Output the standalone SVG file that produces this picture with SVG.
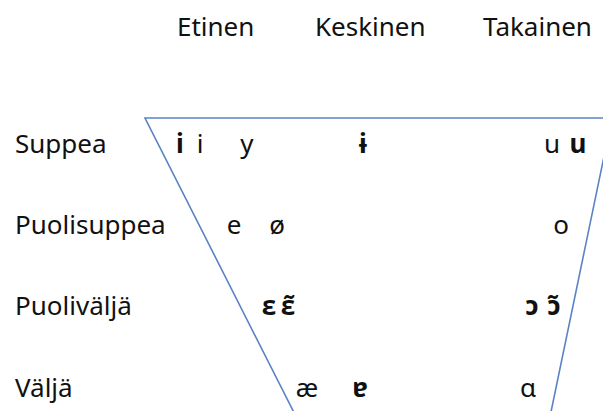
<svg xmlns="http://www.w3.org/2000/svg" width="603" height="411" viewBox="0 0 603 411">
  <style>
    text { font-family: "Noto Sans", "DejaVu Sans", sans-serif; font-size: 26px; fill: #111; }
    .v { text-anchor: middle; }
    .b { font-weight: bold; }
    .frame { fill: none; stroke: #5b83c4; stroke-width: 1.6; }
  </style>
  <rect width="603" height="411" fill="#ffffff"/>
  <g id="connectors">
    <path class="frame" d="M 318 460 L 145 118 L 612 118 L 541 460"/>
  </g>
  <g id="headers">
    <text x="177" y="36">Etinen</text>
    <text x="315" y="36">Keskinen</text>
    <text x="483" y="36">Takainen</text>
  </g>
  <g id="rows">
    <text x="15" y="153">Suppea</text>
    <text x="15" y="234">Puolisuppea</text>
    <text x="15" y="315">Puoliväljä</text>
    <text x="15" y="397">Väljä</text>
  </g>
  <g id="row-suppea">
    <text class="v b" x="180" y="153">i</text>
    <text class="v" x="200" y="153">i</text>
    <text class="v" x="247" y="153">y</text>
    <text class="v b" x="363" y="153">ɨ</text>
    <text class="v" x="552" y="153">u</text>
    <text class="v b" x="578" y="153">u</text>
  </g>
  <g id="row-puolisuppea">
    <text class="v" x="234" y="234">e</text>
    <text class="v" x="277" y="234">ø</text>
    <text class="v" x="561" y="234">o</text>
  </g>
  <g id="row-puolivalja">
    <text class="v b" x="269" y="315">ɛ</text>
    <text class="v b" x="288" y="315">ɛ̃</text>
    <text class="v b" x="532" y="315">ɔ</text>
    <text class="v b" x="554" y="315">ɔ̃</text>
  </g>
  <g id="row-valja">
    <text class="v" x="307" y="397">æ</text>
    <text class="v b" x="360" y="397">ɐ</text>
    <text class="v" x="528" y="397">ɑ</text>
  </g>
</svg>
